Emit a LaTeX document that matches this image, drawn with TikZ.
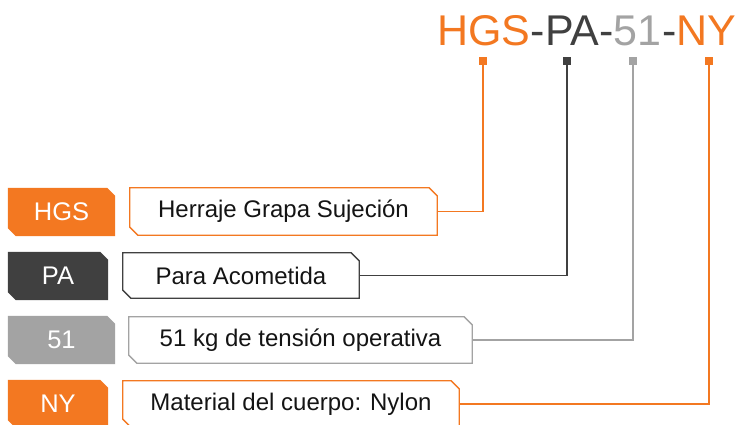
\documentclass[tikz,border=0pt]{standalone}
\usepackage{fontspec}
\setmainfont{Liberation Sans}
\usetikzlibrary{backgrounds}
\definecolor{cor}{RGB}{243,120,33}
\definecolor{cdk}{RGB}{64,64,64}
\definecolor{clt}{RGB}{163,163,163}
\definecolor{ctx}{RGB}{20,20,20}
\newcommand\bevelpath[2]{%
  \path[#2] (#1.north west) -- ([xshift=-8pt]#1.north east) -- ([yshift=-8pt]#1.north east)
    -- (#1.south east) -- ([xshift=8pt]#1.south west) -- ([yshift=8pt]#1.south west) -- cycle;}
\tikzset{
  codebox/.style={rectangle, inner sep=0pt, text=white, font=\fontsize{25.5}{30}\selectfont},
  descbox/.style={rectangle, inner sep=0pt, text=ctx, font=\fontsize{24}{28}\selectfont},
  title/.style={anchor=base west, inner sep=0pt, text=#1, font=\fontsize{43}{50}\selectfont},
  marker/.style={fill=#1, minimum size=8pt, inner sep=0pt},
  conn/.style={draw=#1, line width=1.3pt},
}
\begin{document}
\begin{tikzpicture}[x=1pt,y=-1pt]
\clip (0,0) rectangle (738,424);
% title
\node[title=cor] (t1) at (437,45) {HGS};
\node[title=cdk] (t2) at (t1.base east) {-PA-};
\node[title=clt] (t3) at (t2.base east) {51};
\node[title=cdk] (t4) at (t3.base east) {-};
\node[title=cor] (t5) at (t4.base east) {NY};
% markers
\node[marker=cor] (mHGS) at (483,61) {};
\node[marker=cdk] (mPA) at (567,61) {};
\node[marker=clt] (m51) at (633,61) {};
\node[marker=cor] (mNY) at (709,61) {};
% code boxes
\node[codebox, minimum width=107pt, minimum height=48pt] (lHGS) at (61.5,212) {HGS};
\node[codebox, minimum width=100pt, minimum height=48pt] (lPA) at (58,276) {PA};
\node[codebox, minimum width=107pt, minimum height=48pt] (l51) at (61.5,340) {51};
\node[codebox, minimum width=100pt, minimum height=48pt] (lNY) at (58,404) {NY};
% description boxes
\node[descbox, minimum width=307pt, minimum height=47pt] (dHGS) at (283.5,211.5) {Herraje Grapa Sujeción};
\node[descbox, minimum width=236pt, minimum height=45pt] (dPA) at (241,275.5) {Para Acometida};
\node[descbox, minimum width=343pt, minimum height=46pt] (d51) at (300.5,340) {51 kg de tensión operativa};
\node[descbox, minimum width=336pt, minimum height=46pt] (dNY) at (291,404) {Material del cuerpo: Nylon};
\begin{scope}[on background layer]
\fill[white] (0,0) rectangle (738,424);
\bevelpath{lHGS}{fill=cor}
\bevelpath{lPA}{fill=cdk}
\bevelpath{l51}{fill=clt}
\bevelpath{lNY}{fill=cor}
\bevelpath{dHGS}{draw=cor, line width=1.3pt}
\bevelpath{dPA}{draw=cdk, line width=1.3pt}
\bevelpath{d51}{draw=clt, line width=1.3pt}
\bevelpath{dNY}{draw=cor, line width=1.3pt}
\end{scope}
% connectors
\draw[conn=cor] (mHGS.center) |- (dHGS.east);
\draw[conn=cdk] (mPA.center) |- (dPA.east);
\draw[conn=clt] (m51.center) |- (d51.east);
\draw[conn=cor] (mNY.center) |- (dNY.east);
\end{tikzpicture}
\end{document}
